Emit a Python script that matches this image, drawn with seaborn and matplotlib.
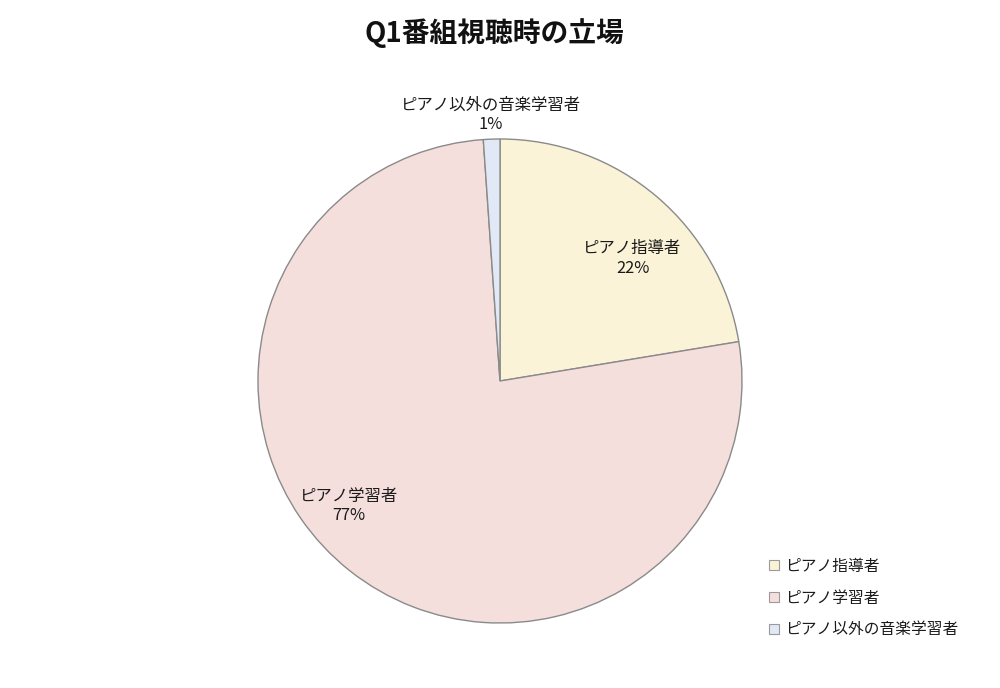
import matplotlib
matplotlib.use("Agg")
import matplotlib.pyplot as plt
import seaborn as sns
import numpy as np
from matplotlib.patches import Patch

categories = ["ピアノ指導者", "ピアノ学習者", "ピアノ以外の音楽学習者"]
values = [22.4, 76.5, 1.1]
colors = ["#FAF3D7", "#F5DFDD", "#E1E9F6"]

sns.set_theme(style="white")
plt.rcParams['font.family'] = ['Noto Sans CJK JP', 'DejaVu Sans']

fig = plt.figure(figsize=(10, 6.88), dpi=100)
fig.patch.set_facecolor("white")
ax = fig.add_axes([0.258, 65 / 688, 0.484, 484 / 688])
wedges, _ = ax.pie(values, colors=colors, startangle=90, counterclock=False,
                   radius=1.0,
                   wedgeprops=dict(edgecolor="#8a8a8a", linewidth=1.0))
ax.set_xlim(-1, 1)
ax.set_ylim(-1, 1)
ax.set_aspect("equal")
ax.axis("off")

total = sum(values)
# label placement (angle offset in degrees, distance factor)
label_layout = [(-7, 0.745), (-12, 0.81), (0, 1.10)]
for w, cat, v, (doff, dist) in zip(wedges, categories, values, label_layout):
    ang = np.deg2rad((w.theta1 + w.theta2) / 2 + doff)
    x, y = dist * np.cos(ang), dist * np.sin(ang)
    pct = int(np.floor(v / total * 100 + 0.5))
    ax.text(x, y, f"{cat}\n{pct}%", ha="center", va="center", fontsize=11.8,
            color="#1a1a1a", linespacing=1.2)

fig.text(0.494, 1 - 33 / 688, "Q1番組視聴時の立場", ha="center", va="center",
         fontsize=20, fontweight="bold", color="#111111")

handles = [Patch(facecolor=c, edgecolor="#9a9a9a", linewidth=0.8) for c in colors]
leg = fig.legend(handles, categories, loc="center left",
                 bbox_to_anchor=(0.755, 1 - 598 / 688), frameon=False,
                 fontsize=11.3, handlelength=0.65, handleheight=0.65,
                 handletextpad=0.35, labelspacing=0.95)
for t in leg.get_texts():
    t.set_color("#1a1a1a")

fig.savefig("out.png", dpi=100, facecolor="white")
